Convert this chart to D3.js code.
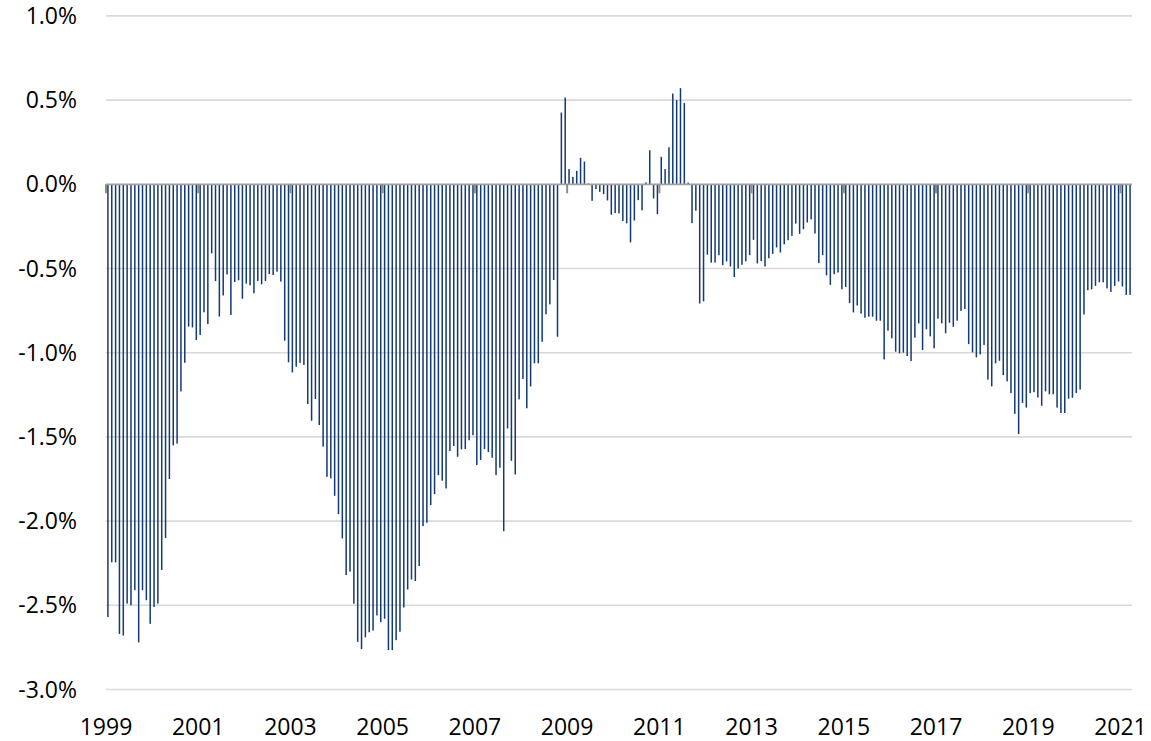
<!DOCTYPE html>
<html>
<head>
<meta charset="utf-8">
<script src="https://cdn.jsdelivr.net/npm/d3@7"></script>
<style>
  html, body { margin: 0; padding: 0; background: #ffffff; }
  svg { display: block; }
  text { font-family: "Open Sans", "Noto Sans", sans-serif; fill: #000; }
</style>
</head>
<body>
<svg id="chart" width="1151" height="741"></svg>
<script>
// Monthly values (%), Jan 1999 – Mar 2021
const values = [
  -2.57, -2.245, -2.245, -2.67, -2.68, -2.49, -2.50, -2.41, -2.72, -2.41, -2.47, -2.61,
  -2.51, -2.49, -2.29, -2.10, -1.75, -1.55, -1.54, -1.23, -1.06, -0.845, -0.85, -0.925,
  -0.895, -0.76, -0.83, -0.41, -0.575, -0.785, -0.66, -0.535, -0.776, -0.58, -0.57, -0.68,
  -0.59, -0.60, -0.647, -0.574, -0.594, -0.574, -0.533, -0.539, -0.519, -0.578, -0.929, -1.057,
  -1.117, -1.083, -1.06, -1.073, -1.305, -1.404, -1.275, -1.43, -1.558, -1.737, -1.746, -1.85,
  -1.958, -2.103, -2.32, -2.30, -2.49, -2.717, -2.76, -2.69, -2.66, -2.65, -2.56, -2.60,
  -2.58, -2.766, -2.766, -2.707, -2.657, -2.513, -2.406, -2.347, -2.356, -2.267, -2.03, -2.01,
  -1.905, -1.84, -1.727, -1.76, -1.806, -1.584, -1.554, -1.618, -1.574, -1.572, -1.52, -1.49,
  -1.667, -1.637, -1.572, -1.59, -1.624, -1.727, -1.683, -2.06, -1.45, -1.642, -1.723, -1.277,
  -1.156, -1.33, -1.20, -1.063, -1.063, -0.935, -0.772, -0.713, -0.568, -0.905, 0.426, 0.515,
  0.09, 0.044, 0.08, 0.157, 0.135, 0.005, -0.098, -0.028, -0.045, -0.058, -0.096, -0.181,
  -0.171, -0.173, -0.218, -0.232, -0.345, -0.215, -0.094, -0.155, 0.011, 0.202, -0.084, -0.178,
  0.163, 0.09, 0.22, 0.539, 0.50, 0.571, 0.483, 0.01, -0.231, -0.157, -0.708, -0.695,
  -0.418, -0.465, -0.465, -0.421, -0.48, -0.458, -0.488, -0.551, -0.50, -0.478, -0.458, -0.421,
  -0.33, -0.47, -0.455, -0.488, -0.439, -0.413, -0.375, -0.405, -0.356, -0.332, -0.306, -0.233,
  -0.294, -0.267, -0.227, -0.208, -0.292, -0.468, -0.421, -0.541, -0.597, -0.534, -0.524, -0.623,
  -0.61, -0.706, -0.761, -0.72, -0.768, -0.792, -0.786, -0.786, -0.81, -0.81, -1.04, -0.869,
  -0.915, -0.994, -1.004, -1.0, -1.02, -1.05, -0.911, -0.826, -0.984, -0.861, -0.903, -0.974,
  -0.798, -0.826, -0.885, -0.822, -0.846, -0.81, -0.752, -0.741, -0.949, -0.998, -1.028, -1.01,
  -0.954, -1.16, -1.20, -1.063, -1.048, -1.133, -1.17, -1.24, -1.363, -1.483, -1.298, -1.326,
  -1.24, -1.234, -1.266, -1.315, -1.23, -1.247, -1.247, -1.326, -1.358, -1.358, -1.273, -1.268,
  -1.24, -1.219, -0.773, -0.629, -0.624, -0.603, -0.582, -0.582, -0.618, -0.639, -0.603, -0.577,
  -0.607, -0.657, -0.657
];

// Categories: one per month
const months = d3.timeMonth.range(new Date(1999, 0, 1), new Date(1999, 0 + values.length, 1));
const categories = months.map(d3.timeFormat("%Y-%m"));

// Tick labels (every 24 months)
const xTickLabels = ["1999", "2001", "2003", "2005", "2007", "2009", "2011", "2013", "2015", "2017", "2019", "2021"];
const yTicks = [1.0, 0.5, 0.0, -0.5, -1.0, -1.5, -2.0, -2.5, -3.0];
const yTickLabels = ["1.0%", "0.5%", "0.0%", "-0.5%", "-1.0%", "-1.5%", "-2.0%", "-2.5%", "-3.0%"];

const svg = d3.select("#chart");

const x = d3.scaleBand()
  .domain(categories)
  .range([106, 1132])
  .padding(0);

const y = d3.scaleLinear()
  .domain([-3, 1])
  .range([689.5, 15.9]);

const left = x.range()[0], right = x.range()[1];

// Gridlines
svg.append("g")
  .selectAll("line")
  .data(yTicks.filter(d => d !== 0))
  .join("line")
  .attr("x1", left)
  .attr("x2", right)
  .attr("y1", d => y(d))
  .attr("y2", d => y(d))
  .attr("stroke", "#d9d9d9")
  .attr("stroke-width", 1.6);

// Y axis labels
svg.append("g")
  .selectAll("text")
  .data(yTicks)
  .join("text")
  .attr("x", 77)
  .attr("y", d => y(d))
  .attr("dy", "0.35em")
  .attr("text-anchor", "end")
  .style("font-size", "23px")
  .text((d, i) => yTickLabels[i]);

// Bars
const barW = 1.5;
svg.append("g")
  .selectAll("rect")
  .data(values.map((v, i) => ({ v, c: categories[i] })))
  .join("rect")
  .attr("x", d => x(d.c) + x.bandwidth() / 2 - barW / 2)
  .attr("width", barW)
  .attr("y", d => Math.min(y(d.v), y(0)))
  .attr("height", d => Math.abs(y(d.v) - y(0)))
  .attr("fill", "#143a72");

// Zero axis line
svg.append("line")
  .attr("x1", left)
  .attr("x2", right)
  .attr("y1", y(0))
  .attr("y2", y(0))
  .attr("stroke", "#a0a0a0")
  .attr("stroke-width", 1.8);

// Tick marks and x labels
const tickCats = xTickLabels.map((_, k) => categories[k * 24]);
svg.append("g")
  .selectAll("line")
  .data(tickCats)
  .join("line")
  .attr("x1", d => x(d))
  .attr("x2", d => x(d))
  .attr("y1", y(0))
  .attr("y2", y(0) + 9)
  .attr("stroke", "#8c8c8c")
  .attr("stroke-width", 2);

svg.append("g")
  .selectAll("text")
  .data(xTickLabels)
  .join("text")
  .attr("x", (d, k) => x(tickCats[k]))
  .attr("y", 735)
  .attr("text-anchor", "middle")
  .style("font-size", "23px")
  .text(d => d);
</script>
</body>
</html>
